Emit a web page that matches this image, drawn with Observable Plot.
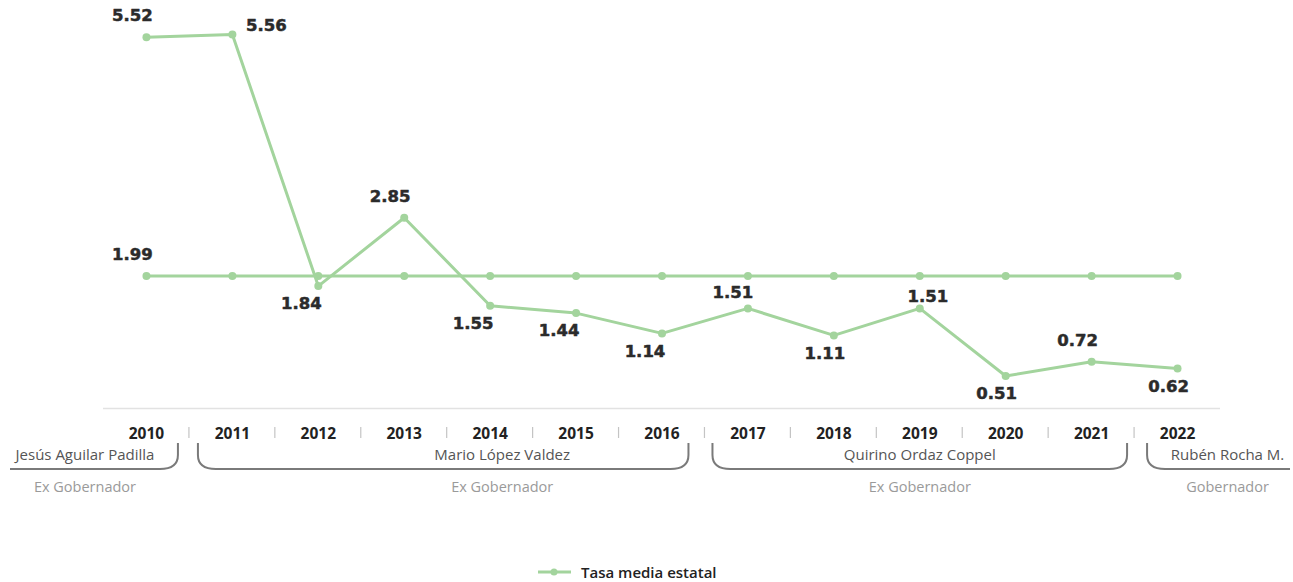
<!DOCTYPE html>
<html><head><meta charset="utf-8">
<script src="https://cdn.jsdelivr.net/npm/d3@7"></script>
<script src="https://cdn.jsdelivr.net/npm/@observablehq/plot@0.6"></script>
<style>
body{margin:0;background:#fff;font-family:"Open Sans",sans-serif;}
#wrap{position:relative;width:1293px;height:582px;overflow:hidden;}
#wrap svg{display:block;}
#legend{position:absolute;left:537px;top:562px;display:flex;align-items:center;font:600 15px "Open Sans",sans-serif;color:#222;}
</style></head><body><div id="wrap"></div>
<script>
// ---- data ----
const years = ["2010","2011","2012","2013","2014","2015","2016","2017","2018","2019","2020","2021","2022"];
const tasaMunicipal = [5.52, 5.56, 1.84, 2.85, 1.55, 1.44, 1.14, 1.51, 1.11, 1.51, 0.51, 0.72, 0.62];
const tasaMediaEstatal = [1.99, 1.99, 1.99, 1.99, 1.99, 1.99, 1.99, 1.99, 1.99, 1.99, 1.99, 1.99, 1.99];
const municipalLabelSide = ["NW","E","SW","NW","SW","SW","SW","N","S","NE","S","NW","S"];
const mediaLabelSide = ["NW",null,null,null,null,null,null,null,null,null,null,null,null];
const governorNames = ["Jesús Aguilar Padilla","Mario López Valdez","Quirino Ordaz Coppel","Rubén Rocha M."];
const governorTitles = ["Ex Gobernador","Ex Gobernador","Ex Gobernador","Gobernador"];
const governorFrom = ["2010","2011","2017","2022"];
const governorTo = ["2010","2016","2021","2022"];
const legendLabel = "Tasa media estatal";

// ---- build ----
const green = "#a3d49d";
const municipal = years.map((y,i)=>({year:y, value:tasaMunicipal[i], side:municipalLabelSide[i]}));
const media = years.map((y,i)=>({year:y, value:tasaMediaEstatal[i], side:mediaLabelSide[i]}));
const labelRows = municipal.concat(media).filter(d=>d.side);
const offsets = {NW:[-14,-21], N:[-15,-16], NE:[8,-12], E:[34,-9], SW:[-17,18], S:[-9,18]};
const labelMarks = Object.entries(offsets).map(([k,[dx,dy]]) =>
  Plot.text(labelRows.filter(d=>d.side===k), {x:"year", y:"value", text:d=>d.value.toFixed(2), dx, dy,
    lineAnchor:"middle", textAnchor:"middle", fontSize:16.5, fontWeight:"bold", fontFamily:"DejaVu Sans",
    fill:"#2b2b2b", stroke:"#2b2b2b", strokeWidth:0.5}));

const W = 1293, H = 530;
const chart = Plot.plot({
  width: W, height: H,
  marginLeft: 103, marginRight: 73, marginTop: 34, marginBottom: 120,
  style: {background:"#fff", overflow:"visible"},
  x: {type:"point", domain: years, padding: 0.5, round: false, axis: null, label: null},
  y: {domain:[0, 5.56], axis: null},
  marks: [
    Plot.ruleY([0], {stroke:"#e2e2e2", strokeWidth:1.6, dy:-2}),
    Plot.axisX({tickSize:0, tickPadding:17, label:null, fontSize:15.5, fontWeight:"bold", fontFamily:"Open Sans", fill:"#222"}),
    Plot.line(media, {x:"year", y:"value", stroke:green, strokeWidth:3}),
    Plot.dot(media, {x:"year", y:"value", fill:green, r:4}),
    Plot.line(municipal, {x:"year", y:"value", stroke:green, strokeWidth:3}),
    Plot.dot(municipal, {x:"year", y:"value", fill:green, r:4}),
    ...labelMarks
  ]
});
document.getElementById("wrap").appendChild(chart);

// ---- governor brackets, separators ----
const xs = chart.scale("x");
const px = y => xs.apply(y);
const svg = d3.select(chart);
const g = svg.append("g");
for (let i=0;i<years.length-1;i++){
  const m = (px(years[i])+px(years[i+1]))/2;
  g.append("line").attr("x1",m).attr("x2",m).attr("y1",427).attr("y2",438).attr("stroke","#c4c4c4").attr("stroke-width",1.2);
}
const yLine = 469, yTop = 443, r = 18;
const insetL = [0, 9, 8, 13], insetR = [11, 16, 7, 0];
const nameShift = [-9, 59, 0, 9];
governorNames.forEach((name,i)=>{
  const a = years.indexOf(governorFrom[i]), b = years.indexOf(governorTo[i]);
  const first = a===0, last = b===years.length-1;
  const x0 = first ? 10 : (px(years[a-1])+px(years[a]))/2 + insetL[i];
  const x1 = last ? W-3 : (px(years[b])+px(years[b+1]))/2 - insetR[i];
  let p = "";
  if (first) p += `M${x0},${yLine}`;
  else p += `M${x0},${yTop} V${yLine-r+4} Q${x0},${yLine} ${x0+r},${yLine}`;
  if (last) p += ` H${x1}`;
  else p += ` H${x1-r} Q${x1},${yLine} ${x1},${yLine-r+4} V${yTop}`;
  g.append("path").attr("d",p).attr("fill","none").attr("stroke","#7a7a7a").attr("stroke-width",2);
  const cx = (x0+x1)/2 + nameShift[i];
  g.append("text").attr("x",cx).attr("y",455).attr("dy","0.35em").attr("text-anchor","middle")
    .attr("font-family","Open Sans").attr("font-size",15).attr("fill","#555").text(name);
  g.append("text").attr("x",cx).attr("y",487).attr("dy","0.35em").attr("text-anchor","middle")
    .attr("font-family","Open Sans").attr("font-size",14.5).attr("fill","#9a9a9a").text(governorTitles[i]);
});

// ---- legend ----
const leg = document.createElement("div");
leg.id = "legend";
leg.innerHTML = `<svg width="36" height="12" style="margin-right:8px"><line x1="1" x2="34" y1="6" y2="6" stroke="${green}" stroke-width="3"/><circle cx="17" cy="6" r="3.5" fill="${green}"/></svg><span></span>`;
leg.querySelector("span").textContent = legendLabel;
document.getElementById("wrap").appendChild(leg);
</script></body></html>
